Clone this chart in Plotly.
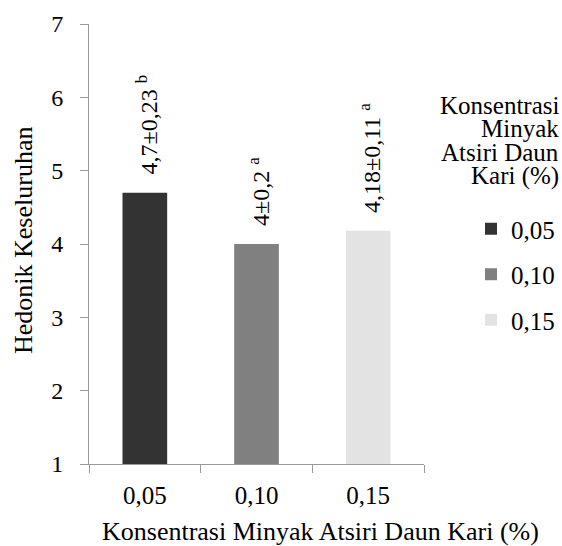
import plotly.graph_objects as go

categories = ["0,05", "0,10", "0,15"]
values = [4.7, 4.0, 4.18]
sd_labels = ["4,7±0,23", "4±0,2", "4,18±0,11"]
letters = ["b", "a", "a"]
colors = ["#333333", "#808080", "#e3e3e3"]
legend_title_lines = ["Konsentrasi", "Minyak", "Atsiri Daun", "Kari (%)"]
x_title = "Konsentrasi Minyak Atsiri Daun Kari (%)"
y_title = "Hedonik Keseluruhan"

FONT = "Liberation Serif"
W, H = 562, 546
L, R, T, B = 89, 138, 24, 82
pw, ph = W - L - R, H - T - B

def px_x(x):
    return (x - L) / pw

def px_y(y):
    return (H - B - y) / ph

fig = go.Figure()
for i, (c, v, col) in enumerate(zip(categories, values, colors)):
    fig.add_trace(go.Bar(
        x=[c], y=[v], name=c, marker=dict(color=col, line=dict(width=0)),
        width=0.40, legendgroup=f"g{i}", showlegend=True,
    ))

for c, v, s, l in zip(categories, values, sd_labels, letters):
    fig.add_annotation(
        x=c, y=v, xref="x", yref="y", text=f"{s} <sup>{l}</sup>",
        textangle=-90, showarrow=False, yanchor="bottom", xanchor="center",
        xshift=2, yshift=16, font=dict(family=FONT, size=24, color="#000"),
    )

ys = [105, 128.5, 152, 175.5]
for t, yy in zip(legend_title_lines, ys):
    fig.add_annotation(
        x=px_x(561), y=px_y(yy), xref="paper", yref="paper", text=t,
        showarrow=False, xanchor="right", yanchor="middle",
        font=dict(family=FONT, size=25, color="#000"),
    )

fig.add_annotation(
    x=px_x(320), y=px_y(531), xref="paper", yref="paper", text=x_title,
    showarrow=False, xanchor="center", yanchor="middle",
    font=dict(family=FONT, size=26, color="#000"),
)
fig.add_annotation(
    x=px_x(23), y=px_y(241), xref="paper", yref="paper", text=y_title,
    showarrow=False, xanchor="center", yanchor="middle", textangle=-90,
    font=dict(family=FONT, size=26, color="#000"),
)

fig.update_layout(
    width=W, height=H, margin=dict(l=L, r=R, t=T, b=B, autoexpand=False),
    plot_bgcolor="white", paper_bgcolor="white",
    font=dict(family=FONT, size=24, color="#000"),
    barmode="overlay",
    legend=dict(
        x=px_x(471), y=px_y(206), xanchor="left", yanchor="top",
        font=dict(family=FONT, size=25, color="#000"),
        tracegroupgap=10, bgcolor="rgba(0,0,0,0)",
    ),
    xaxis=dict(
        type="category", showline=True, linecolor="#999999", linewidth=1,
        ticks="outside", tickson="boundaries", ticklen=8, tickcolor="#999999",
        showgrid=False, tickfont=dict(family=FONT, size=25, color="#000"),
        ticklabelstandoff=9,
    ),
    yaxis=dict(
        range=[1, 7], dtick=1, showline=True, linecolor="#999999", linewidth=1,
        ticks="outside", ticklen=8, tickcolor="#999999", showgrid=False,
        zeroline=False, tickfont=dict(family=FONT, size=24, color="#000"),
        ticklabelstandoff=12,
    ),
)

fig.write_html("out.html")
